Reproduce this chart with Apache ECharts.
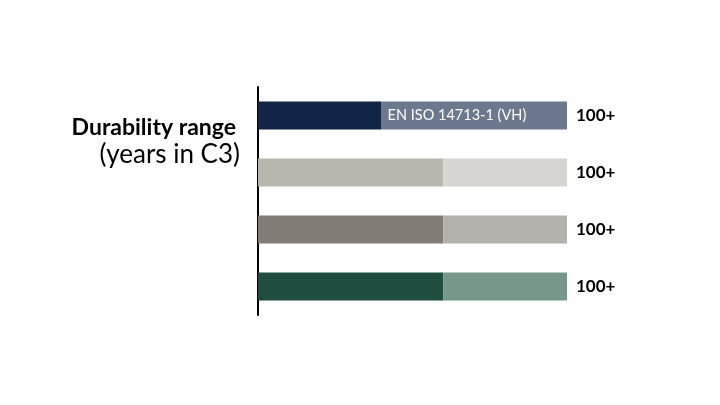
<!DOCTYPE html>
<html><head><meta charset="utf-8">
<script src="https://cdn.jsdelivr.net/npm/echarts@6/dist/echarts.min.js"></script>
<style>html,body{margin:0;padding:0;background:#fff}#c{width:720px;height:405px}</style>
</head><body><div id="c"></div>
<script>
const categories = ['Row 1', 'Row 2', 'Row 3', 'Row 4'];
const baseValues = [40, 60, 60, 60];
const extraValues = [60, 40, 40, 40];
const totalLabels = ['100+', '100+', '100+', '100+'];
const innerLabels = ['EN ISO 14713-1 (VH)', '', '', ''];
const baseColors = ['#132547', '#b9b6ae', '#817c76', '#1f4d3f'];
const extraColors = ['#6b788d', '#d6d5d1', '#b3b1ac', '#76978a'];

const chart = echarts.init(document.getElementById('c'));
chart.setOption({
  backgroundColor: '#fff',
  animation: false,
  title: [
    { text: 'Durability range', right: 479, top: 111,
      textStyle: { fontFamily: 'Lato', fontWeight: 'bold', fontSize: 23, color: '#000' } },
    { text: '(years in C3)', right: 475, top: 137,
      textStyle: { fontFamily: 'Lato', fontWeight: 'normal', fontSize: 26, color: '#000' } }
  ],
  grid: { left: 258, right: 153, top: 87, bottom: 90, containLabel: false },
  xAxis: { type: 'value', min: 0, max: 100, show: false },
  yAxis: {
    type: 'category', data: categories, inverse: true,
    axisLine: { show: true, lineStyle: { color: '#000', width: 2 } },
    axisTick: { show: false }, axisLabel: { show: false }, splitLine: { show: false }
  },
  series: [
    {
      type: 'bar', stack: 'total', barWidth: 28,
      data: baseValues.map((v, i) => ({ value: v, itemStyle: { color: baseColors[i] } }))
    },
    {
      type: 'bar', stack: 'total', barWidth: 28,
      data: extraValues.map((v, i) => ({ value: v, itemStyle: { color: extraColors[i] },
        label: { show: innerLabels[i] !== '', position: 'insideLeft', distance: 6,
          formatter: innerLabels[i], color: '#fff', fontFamily: 'Lato', fontSize: 14.5 } }))
    },
    {
      type: 'bar', stack: 'total', barWidth: 28,
      data: baseValues.map(() => 0),
      itemStyle: { color: 'transparent' },
      label: { show: true, position: 'right', distance: 9,
        formatter: p => totalLabels[p.dataIndex],
        color: '#000', fontFamily: 'Lato', fontWeight: 'bold', fontSize: 17 }
    }
  ]
});
</script></body></html>
